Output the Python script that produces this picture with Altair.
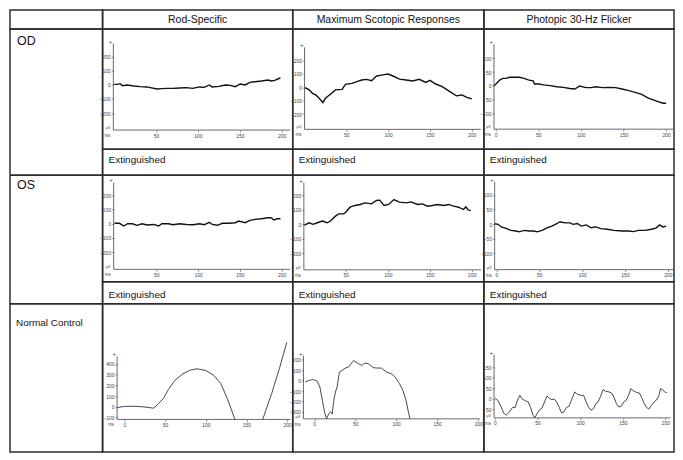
import altair as alt
import pandas as pd

FONT = "Liberation Sans, Arial, Helvetica, sans-serif"

col_titles = ["Rod-Specific", "Maximum Scotopic Responses", "Photopic 30-Hz Flicker"]
row_labels = ["OD", "OS", "Normal Control"]
ext_label = "Extinguished"

# ---- traces (time in ms, amplitude in µV) ----
od_rod_x = [0, 4, 7, 10, 15.7, 23.4, 31, 39, 43, 51, 56.7, 62.6, 70, 78, 86, 93.8, 101.6, 107.5, 113.3, 117,
            125, 132.9, 138.7, 144.6, 150.5, 156.3, 162, 168, 175.8, 183.6, 187.5, 191.5, 195.4, 198.5]
od_rod_y = [2, 2, 7, -7, -2, -9, -14, -16, -21, -30, -28, -26, -26, -23, -21, -26, -16, -19, -2, -16,
            -12, -2, -5, -14, 5, -2, 16, 21, 26, 33, 26, 30, 40, 49]

od_max_x = [0.5, 5.6, 9.5, 13.5, 17.4, 22, 25, 31, 37, 45, 48.9, 56.7, 62.6, 68.5, 74.4, 80.3, 86.2, 92, 100,
            105.9, 113.7, 121.6, 129.5, 137.3, 145.2, 150.2, 157, 164.8, 172.6, 181.7, 188.4, 194.3, 200.2]
od_max_y = [-2, -19, -45, -57, -82, -114, -82, -52, -19, -15, 22, 30, 43, 55, 60, 50, 85, 92, 100,
            85, 62, 55, 48, 60, 37, 52, 25, 5, -27, -64, -57, -75, -87]

od_flk_x = [-2, 1, 4.6, 8.4, 12.3, 16, 21.8, 27.6, 33.3, 39, 44, 45.6, 50.6, 56.3, 64, 71.6, 79.3, 87, 92.8,
            98.5, 106, 112, 117.6, 125.3, 133, 140.6, 148.3, 156, 163.6, 171.3, 179, 184.7, 190.5, 196.2, 200]
od_flk_y = [1, 9, 21, 27, 27, 31, 31, 31, 27, 21, 18, 7, 7, 4, 1, -3, -5, -9, -11,
            0, -6, -6, -3, -6, -5, -6, -11, -17, -23, -30, -44, -50, -56, -62, -62]

os_rod_x = [0, 6, 11, 15.7, 21.6, 27, 33, 39, 47, 52.7, 56.7, 64.5, 70, 78, 86, 93.8, 101.6, 107.5, 113.3, 117,
            123, 129, 136.7, 144.6, 148.5, 156.3, 162, 168, 175.8, 183.6, 187.5, 190.6, 194.5, 198.5]
os_rod_y = [3, 3, -16, 0, 0, -11, 0, -9, -5, -16, 0, 0, -7, 0, -5, -7, 0, -7, 10, -5,
            -11, 3, 3, 7, 19, 7, 24, 31, 35, 42, 42, 26, 35, 35]

os_max_x = [0.5, 6.3, 11, 16, 22, 27.8, 31.7, 37.6, 41.5, 47.4, 49.3, 55, 61, 67, 72.8, 80.6, 86.5, 90.4, 95.5,
            101, 107.3, 113.8, 121.7, 127.6, 135.4, 141.3, 147.2, 153, 159, 166.7, 172.5, 178.4, 184.3, 190,
            193, 196, 199]
os_max_y = [-5, 11, 0, 11, 23, 11, 23, 57, 73, 73, 80, 119, 131, 138, 149, 142, 166, 168, 131,
            138, 172, 154, 149, 156, 138, 142, 126, 131, 138, 131, 138, 126, 119, 103,
            121, 99, 97]

os_flk_x = [-2, 2, 5.7, 11.4, 17, 22.9, 26.6, 32.3, 38, 43.8, 47.5, 53.3, 59, 64.7, 70.4, 74.3, 80, 85.7, 89.5,
            94.4, 99, 104.7, 110.4, 116, 121.8, 129.5, 137, 146.6, 154.3, 160, 165.7, 173.3, 181, 186.6, 190.4,
            194.3, 198]
os_flk_y = [1, -1, -10, -15, -22, -24, -27, -22, -24, -24, -27, -22, -13, -7, 1, 8, 4, 4, -1,
            2, -7, -3, -13, -10, -16, -18, -22, -24, -24, -26, -22, -22, -18, -13, -3,
            -10, -7]

nc_rod_x1 = [-9, 0, 12, 24, 36, 42, 48, 54, 62, 72, 80, 89, 100, 110, 118.5, 126.5, 132.5, 135.8]
nc_rod_y1 = [-6, 4, 6, 0, -12, 31, 78, 161, 247, 309, 340, 355, 340, 293, 217, 78, -46, -117]
nc_rod_x2 = [170, 181, 191, 199.6]
nc_rod_y2 = [-117, 124, 370, 602]

nc_max_x = [-11, -6, -1, 4, 7, 10, 12.7, 15, 18, 20, 22, 24, 26, 28, 30.8, 34, 38, 42, 45, 48,
            50.8, 54, 58, 62, 66, 72, 77, 82, 88, 94, 98.8, 104, 108, 112, 114.8, 116.8]
nc_max_y = [-13, 3, 10, -7, -61, -188, -299, -366, -314, -299, -321, -188, -108, -61, 82, 98, 120, 130, 162, 193,
            177, 162, 146, 168, 162, 124, 120, 120, 82, 67, 34, -29, -92, -188, -299, -366]

nc_flk_x = [0, 3.4, 7.4, 10.3, 13, 17, 20.7, 23.8, 26.4, 29.2, 32.2, 36, 39, 41.8, 44.8, 46.8, 49.4, 52.5, 55,
            58.3, 61, 64, 66.7, 69.8, 72.4, 75.5, 78.2, 80.9, 84, 87, 89.7, 93.6, 96.6, 100.5, 104, 107, 110,
            112.7, 115.7, 118.4, 121, 124, 126.9, 130, 133.8, 136.8, 139.5, 142.5, 145.3, 148.3, 151, 154,
            156.8, 159.4, 162.5, 166.3, 169.4, 172, 175.2, 177.8, 180.5, 183.6, 186.7, 189.3, 192.4, 194.3,
            197, 200, 201.6]
nc_flk_y = [3, -6, -38, -66, -77, -61, -40, -40, -6, 17, -1, -9, -14, -40, -77, -89, -69, -50, -45,
            -14, 14, 2, -3, -1, -14, -40, -66, -61, -40, -34, -6, 33, 22, 17, 17, -14, -40,
            -53, -45, -22, -14, 13, 44, 36, 33, 28, 9, -22, -38, -34, -14, -6,
            17, 49, 38, 30, 28, 7, -22, -40, -47, -30, -14, -6, 17, 49,
            41, 30, 31]

# tick values
xt_a = [50, 100, 150, 200]
xt_b = [0, 50, 100, 150, 200]
yt_rod = [-200, -100, 0, 100, 200]
yt_flk = [-100, -50, 0, 50, 100]
yt_nc_rod = [-100, 0, 100, 200, 300, 400]
yt_nc_max = [-300, -200, -100, 0, 100, 200]
yt_nc_flk = [-50, 0, 50, 100, 150]

# ---- layout (pixels) ----
LABEL_W = 93
COL_W = [191, 192, 191]
HEAD_H = 19
PLOT_H = [121, 107, 149]
EXT_H = [26, 22]
REF_W = 194.0
BORDER = "#2b2b2b"
BORDER_W = 1.5

# plot box inside a reference cell: left, right, top, bottom (px), and axis extents
GEOM = {
    (0, 0): (11.0, 191.3, 14.7, 101.6, -1, 210, -320, 290),
    (0, 1): (12.0, 190.9, 18.5, 100.9, 0, 211, -315, 300),
    (0, 2): (10.3, 193.0, 15.3, 100.7, -2, 208, -155, 150),
    (1, 0): (11.3, 191.3, 7.2, 94.5, -1, 210, -320, 290),
    (1, 1): (11.3, 191.1, 7.3, 95.0, 0, 211, -315, 290),
    (1, 2): (11.0, 193.0, 6.7, 94.8, -2, 206, -157, 145),
    (2, 0): (14.8, 191.6, 53.0, 116.3, -9, 204, -117, 470),
    (2, 1): (10.9, 190.0, 52.1, 115.7, -13, 202, -366, 240),
    (2, 2): (10.4, 190.5, 51.3, 114.7, -1, 206, -89, 208),
}

TRACES = {
    (0, 0): ([od_rod_x], [od_rod_y], xt_a, yt_rod),
    (0, 1): ([od_max_x], [od_max_y], xt_a, yt_rod),
    (0, 2): ([od_flk_x], [od_flk_y], xt_b, yt_flk),
    (1, 0): ([os_rod_x], [os_rod_y], xt_a, yt_rod),
    (1, 1): ([os_max_x], [os_max_y], xt_a, yt_rod),
    (1, 2): ([os_flk_x], [os_flk_y], xt_b, yt_flk),
    (2, 0): ([nc_rod_x1, nc_rod_x2], [nc_rod_y1, nc_rod_y2], xt_b, yt_nc_rod),
    (2, 1): ([nc_max_x], [nc_max_y], xt_b, yt_nc_max),
    (2, 2): ([nc_flk_x], [nc_flk_y], xt_b, yt_nc_flk),
}

AX_COLOR = "#444444"


def panel(r, c, W, H):
    left, right, top, bottom, xmin, xmax, ymin, ymax = GEOM[(r, c)]
    xs_list, ys_list, xticks, yticks = TRACES[(r, c)]
    s = W / REF_W
    left, right = left * s, right * s
    kx = (xmax - xmin) / (right - left)
    ky = (ymax - ymin) / (bottom - top)
    xdom = [xmin - left * kx, xmax + (W - right) * kx]
    ydom = [ymin - (H - bottom) * ky, ymax + top * ky]
    xsc = alt.Scale(domain=xdom, nice=False, zero=False)
    ysc = alt.Scale(domain=ydom, nice=False, zero=False)

    rows = []
    for i, (xs, ys) in enumerate(zip(xs_list, ys_list)):
        for a, b in zip(xs, ys):
            rows.append({"x": a, "y": b, "seg": i})
    df = pd.DataFrame(rows)

    thin = r == 2
    common = dict(domain=False, grid=False, tickSize=2, tickWidth=0.6, tickColor=AX_COLOR,
                  labelFontSize=5, labelPadding=1, labelColor=AX_COLOR, labelFont=FONT,
                  labelOverlap=False, labelFlush=False, title=None)
    xaxis = alt.Axis(values=xticks, offset=-(H - bottom), **common)
    yaxis = alt.Axis(values=yticks, offset=-left, **common)
    X = lambda f: alt.X(f, scale=xsc, axis=xaxis)
    Y = lambda f: alt.Y(f, scale=ysc, axis=yaxis)

    line = alt.Chart(df).mark_line(
        color="#333333" if thin else "#111111",
        strokeWidth=0.9 if thin else 1.4,
        interpolate="linear",
    ).encode(x=X("x:Q"), y=Y("y:Q"), detail="seg:N")

    ax_df = pd.DataFrame({"x": [xmin, xmin], "x2": [xmax, xmin],
                          "y": [ymin, ymin], "y2": [ymin, ymax]})
    axes = alt.Chart(ax_df).mark_rule(color=AX_COLOR, strokeWidth=0.8).encode(
        x=X("x:Q"), x2="x2:Q", y=Y("y:Q"), y2="y2:Q",
    )

    u_df = pd.DataFrame({"x": [xmin], "y": [ymin], "yt": [ymax]})
    layers = [line, axes]
    # unit label µV sits at the foot of the y axis unless a tick label is already there
    if (min(yticks) - ymin) / ky > 5:
        layers.append(alt.Chart(u_df).mark_text(
            text="µV", fontSize=4, font=FONT, color=AX_COLOR,
            align="right", baseline="bottom", dx=-3, dy=0).encode(x=X("x:Q"), y=Y("y:Q")))
    layers.append(alt.Chart(u_df).mark_text(
        text="ms", fontSize=4.5, font=FONT, color=AX_COLOR,
        align="right", baseline="top", dx=-3, dy=3).encode(x=X("x:Q"), y=Y("y:Q")))
    layers.append(alt.Chart(u_df).mark_text(
        text="+", fontSize=6, font=FONT, color=AX_COLOR,
        align="right", baseline="bottom", dx=-1, dy=1).encode(x=X("x:Q"), y=Y("yt:Q")))

    return alt.layer(*layers).properties(width=W, height=H)


def text_cell(label, W, H, x, y, size, align="left"):
    return alt.Chart(pd.DataFrame({"t": [label]})).mark_text(
        font=FONT, fontSize=size, align=align, baseline="alphabetic", color="#111111"
    ).encode(
        text="t:N", x=alt.value(x), y=alt.value(y)
    ).properties(width=W, height=H)


def label_cell(label, W, H, x, y, size, sides):
    """Label-column cell drawn without the view frame; its borders are given sides only."""
    txt = alt.Chart(pd.DataFrame({"t": [label]})).mark_text(
        font=FONT, fontSize=size, align="left", baseline="alphabetic", color="#111111"
    ).encode(text="t:N", x=alt.value(x), y=alt.value(y))
    layers = [txt]
    one = pd.DataFrame({"k": [0]})
    for side in sides:
        if side == "left":
            e = dict(x=alt.value(0), y=alt.value(0), y2=alt.value(H))
        elif side == "right":
            e = dict(x=alt.value(W), y=alt.value(0), y2=alt.value(H))
        elif side == "top":
            e = dict(x=alt.value(0), x2=alt.value(W), y=alt.value(0))
        else:
            e = dict(x=alt.value(0), x2=alt.value(W), y=alt.value(H))
        layers.append(alt.Chart(one).mark_rule(color=BORDER, strokeWidth=BORDER_W).encode(**e))
    return alt.layer(*layers).properties(
        width=W, height=H, view=alt.ViewBackground(stroke="transparent")
    )


cells = []
# header row
cells.append(text_cell("", LABEL_W, HEAD_H, 6, 13, 10))
for c in range(3):
    cells.append(text_cell(col_titles[c], COL_W[c], HEAD_H, COL_W[c] / 2, 13, 10.5, "center"))

# OD / OS: plot row, then "Extinguished" row
for r in range(2):
    lab_y = 16 if r == 0 else 14
    cells.append(label_cell(row_labels[r], LABEL_W, PLOT_H[r], 7, lab_y, 12.5, ["left", "right", "top"]))
    for c in range(3):
        cells.append(panel(r, c, COL_W[c], PLOT_H[r]))
    cells.append(label_cell("", LABEL_W, EXT_H[r], 7, 10, 10, ["left", "right", "bottom"]))
    for c in range(3):
        cells.append(text_cell(ext_label, COL_W[c], EXT_H[r], 6, 14 if r == 0 else 16, 10))

# Normal control row
cells.append(text_cell(row_labels[2], LABEL_W, PLOT_H[2], 6, 22, 10))
for c in range(3):
    cells.append(panel(2, c, COL_W[c], PLOT_H[2]))

chart = alt.concat(*cells, columns=4, spacing=0, bounds="flush").properties(
    padding=0, background="white"
).configure_view(
    stroke=BORDER, strokeWidth=BORDER_W
)

chart.save("out.html", embed_options={"renderer": "svg", "actions": False})
